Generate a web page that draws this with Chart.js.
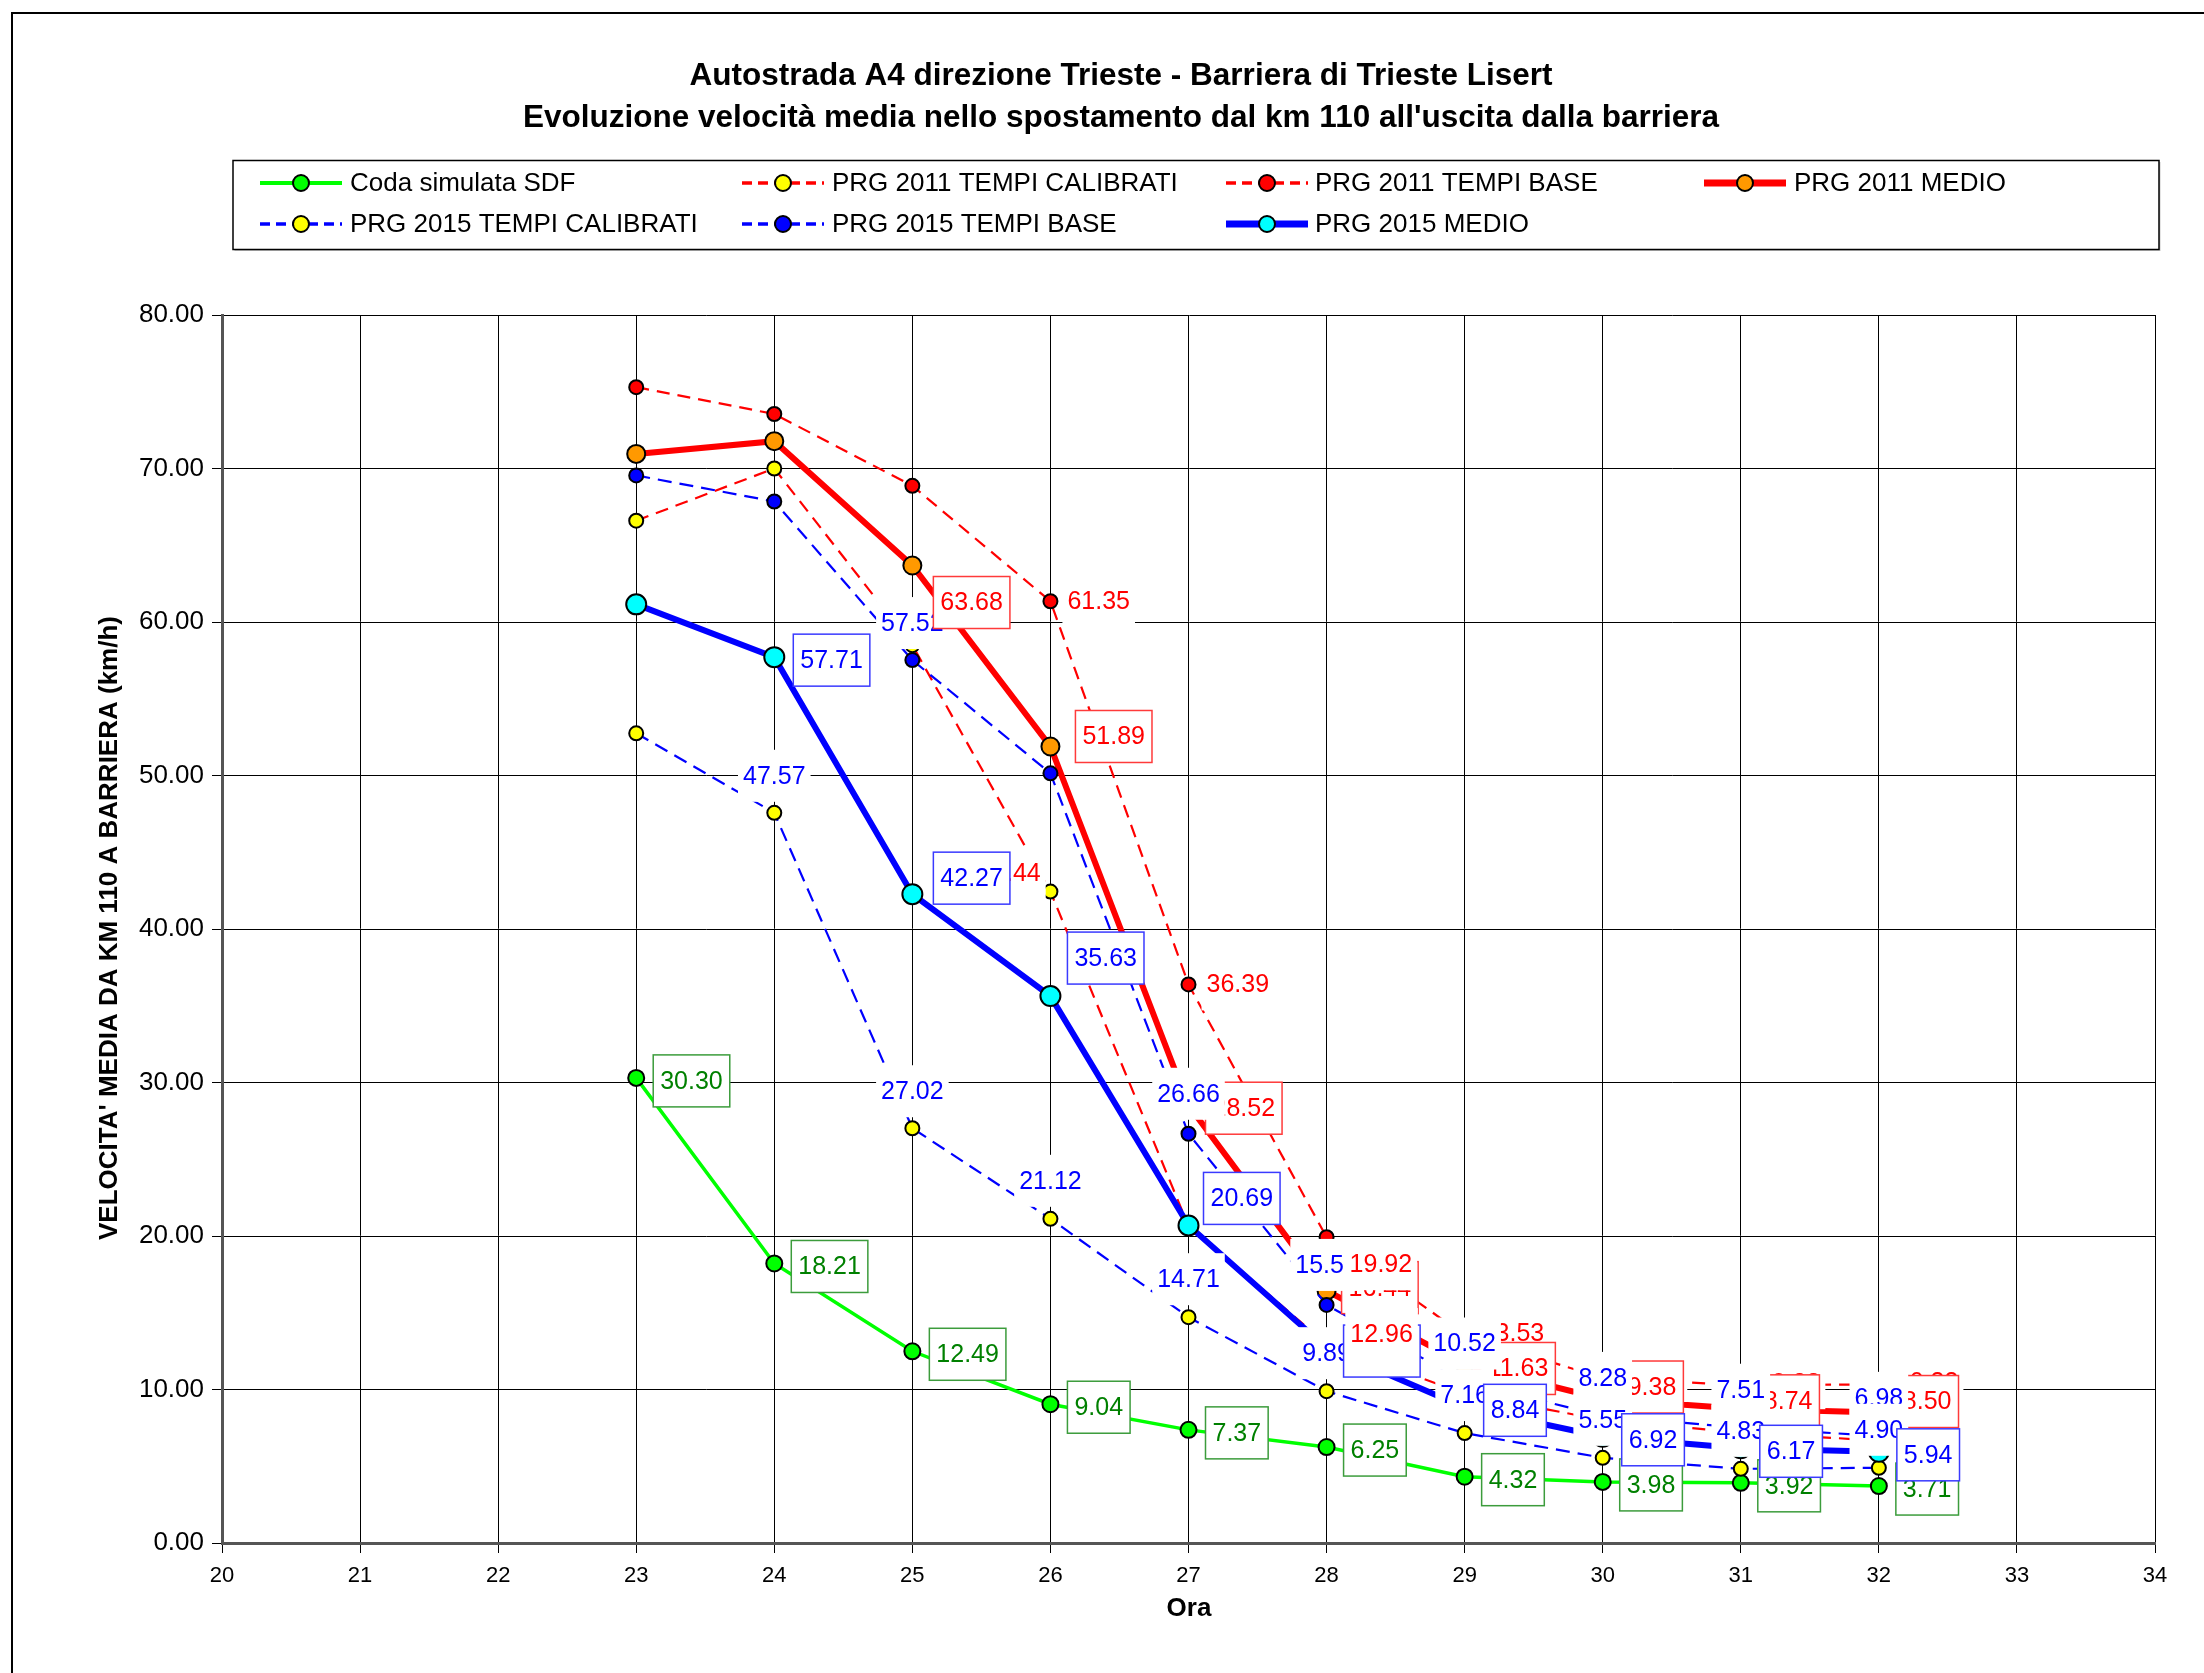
<!DOCTYPE html>
<html lang="it">
<head>
<meta charset="UTF-8">
<title>A4 direzione Trieste - Barriera di Trieste Lisert</title>
<script src="https://cdn.jsdelivr.net/npm/chart.js"></script>
<style>
  html, body { margin: 0; padding: 0; background: #fff; }
  #wrap { width: 2204px; height: 1673px; position: relative; }
</style>
</head>
<body>
<div id="wrap"><canvas id="grafico" width="2204" height="1673"></canvas></div>
<script>
// ore (asse x) e velocita' medie (km/h)
const ore = [23, 24, 25, 26, 27, 28, 29, 30, 31, 32];
const codaSDF          = [30.30, 18.21, 12.49, 9.04, 7.37, 6.25, 4.32, 3.98, 3.92, 3.71];
const prg2011Calibrati = [66.60, 70.00, 58.49, 42.44, 20.65, 12.96, 9.73, 8.01, 7.20, 6.67];
const prg2011Base      = [75.30, 73.55, 68.87, 61.35, 36.39, 19.92, 13.53, 10.75, 10.28, 10.33];
const prg2011Medio     = [70.95, 71.78, 63.68, 51.89, 28.52, 16.44, 11.63, 9.38, 8.74, 8.50];
const prg2015Calibrati = [52.75, 47.57, 27.02, 21.12, 14.71, 9.89, 7.16, 5.55, 4.83, 4.90];
const prg2015Base      = [69.55, 67.85, 57.52, 50.14, 26.66, 15.51, 10.52, 8.28, 7.51, 6.98];
const prg2015Medio     = [61.15, 57.71, 42.27, 35.63, 20.69, 12.70, 8.84, 6.92, 6.17, 5.94];

const titolo = ["Autostrada A4 direzione Trieste - Barriera di Trieste Lisert",
                "Evoluzione velocità media nello spostamento dal km 110 all'uscita dalla barriera"];
const titoloY = "VELOCITA' MEDIA DA KM 110 A BARRIERA (km/h)";
const titoloX = "Ora";

const FONT = '"Liberation Sans", Arial, sans-serif';

const serie = [
  { nome: 'Coda simulata SDF',        dati: codaSDF,          linea: '#00FF00', punto: '#00FF00', sp: 3.5, spLeg: 4,   dash: [],      r: 8 },
  { nome: 'PRG 2011 TEMPI CALIBRATI', dati: prg2011Calibrati, linea: '#FF0000', punto: '#FFFF00', sp: 2.2, spLeg: 3.5, dash: [13, 8], r: 7 },
  { nome: 'PRG 2011 TEMPI BASE',      dati: prg2011Base,      linea: '#FF0000', punto: '#FF0000', sp: 2.2, spLeg: 3.5, dash: [13, 8], r: 7 },
  { nome: 'PRG 2011 MEDIO',           dati: prg2011Medio,     linea: '#FF0000', punto: '#FF9900', sp: 6,   spLeg: 7,   dash: [],      r: 9 },
  { nome: 'PRG 2015 TEMPI CALIBRATI', dati: prg2015Calibrati, linea: '#0000FF', punto: '#FFFF00', sp: 2.2, spLeg: 3.5, dash: [14, 8], r: 7 },
  { nome: 'PRG 2015 TEMPI BASE',      dati: prg2015Base,      linea: '#0000FF', punto: '#0000FF', sp: 2.2, spLeg: 3.5, dash: [14, 8], r: 7 },
  { nome: 'PRG 2015 MEDIO',           dati: prg2015Medio,     linea: '#0000FF', punto: '#00FFFF', sp: 6,   spLeg: 7,   dash: [],      r: 10 }
];

// etichette dati: [indice, ancoraggio ('l' = sinistra box, 'c' = centro), dx, dy, livello opzionale]
const etichette = [
  { serie: 0, box: true, colore: '#008000', bordo: '#3c9c3c', z: 0,
    punti: [[0,'l',17,3],[1,'l',17,3],[2,'l',17,3],[3,'l',17,3],[4,'l',17,3],[5,'l',17,3],[6,'l',17,3],[7,'l',17,3],[8,'l',17,3],[9,'l',17,3]] },
  { serie: 2, box: false, colore: '#FF0000', z: 1,
    punti: [[3,'l',12,0],[4,'l',13,0],[5,'l',18,27,3.5],[6,'l',12,-2],[7,'l',12,-2],[8,'l',12,-2],[9,'l',12,-2]] },
  { serie: 3, box: true, colore: '#FF0000', bordo: '#FF3a3a', z: 2,
    punti: [[2,'l',21,37,3.5],[3,'l',25,-10],[4,'l',17,3],[5,'l',15,-3],[6,'l',16,4],[7,'l',18,-12],[8,'l',16,-8],[9,'l',17,-11]] },
  { serie: 5, box: false, colore: '#0000FF', z: 3,
    punti: [[2,'c',0,-37],[4,'c',0,-40],[5,'c',0,-40],[6,'c',0,-38],[7,'c',0,-38],[8,'c',0,-38],[9,'c',0,-38]] },
  { serie: 4, box: false, colore: '#0000FF', z: 4,
    punti: [[1,'c',0,-37],[2,'c',0,-37],[3,'c',0,-38],[4,'c',0,-38],[5,'c',0,-38],[6,'c',0,-38],[7,'c',0,-38],[8,'c',0,-38],[9,'c',0,-38]] },
  { serie: 6, box: true, colore: '#0000FF', bordo: '#3a3aFF', z: 5,
    punti: [[1,'l',19,3],[2,'l',21,-16],[3,'l',17,-38],[4,'l',15,-27],[5,'l',17,3],[6,'l',19,3],[7,'l',19,3],[8,'l',19,3],[9,'l',18,3]] },
  { serie: 1, box: false, colore: '#FF0000', z: 6,
    punti: [[3,'c',-41,-18,4.5],[5,'c',55,-10]] }
];

const legendaPos = [[260,183],[742,183],[1226,183],[1704,183],[260,224],[742,224],[1226,224]];
const legendaTestoX = [350, 832, 1315, 1794, 350, 832, 1315];

function disegnaEtichette(chart) {
  const ctx = chart.ctx;
  const lista = [];
  etichette.forEach(e => {
    const meta = chart.getDatasetMeta(e.serie);
    e.punti.forEach(p => {
      const el = meta.data[p[0]];
      lista.push({ el: el, testo: serie[e.serie].dati[p[0]].toFixed(2), anc: p[1], dx: p[2], dy: p[3],
                   z: p[4] !== undefined ? p[4] : e.z, e: e });
    });
  });
  lista.sort((a, b) => a.z - b.z);
  ctx.save();
  ctx.font = '25px ' + FONT;
  ctx.textAlign = 'center';
  ctx.textBaseline = 'middle';
  lista.forEach(l => {
    const w = ctx.measureText(l.testo).width + (l.e.box ? 14 : 10);
    const h = 52;
    const cx = l.anc === 'l' ? l.el.x + l.dx + w / 2 : l.el.x + l.dx;
    const cy = l.el.y + l.dy;
    ctx.fillStyle = '#fff';
    ctx.fillRect(cx - w / 2, cy - h / 2, w, h);
    if (l.e.box) {
      ctx.strokeStyle = l.e.bordo;
      ctx.lineWidth = 1.5;
      ctx.strokeRect(cx - w / 2, cy - h / 2, w, h);
    }
    ctx.fillStyle = l.e.colore;
    ctx.fillText(l.testo, cx, cy + 1);
  });
  ctx.restore();
}

function campione(ctx, s, x, y) {
  ctx.save();
  ctx.strokeStyle = s.linea;
  ctx.lineWidth = s.spLeg;
  ctx.setLineDash(s.dash.length ? [10, 6] : []);
  ctx.beginPath(); ctx.moveTo(x, y); ctx.lineTo(x + 82, y); ctx.stroke();
  ctx.setLineDash([]);
  ctx.beginPath(); ctx.arc(x + 41, y, 8, 0, Math.PI * 2);
  ctx.fillStyle = s.punto; ctx.fill();
  ctx.lineWidth = 2; ctx.strokeStyle = '#000'; ctx.stroke();
  ctx.restore();
}

const decor = {
  id: 'decor',
  beforeDraw(chart) {
    const ctx = chart.ctx;
    ctx.save();
    ctx.fillStyle = '#fff';
    ctx.fillRect(0, 0, chart.width, chart.height);
    ctx.restore();
  },
  afterDatasetsDraw(chart) {
    disegnaEtichette(chart);
  },
  afterDraw(chart) {
    const ctx = chart.ctx;
    ctx.save();
    // cornice esterna
    ctx.strokeStyle = '#000';
    ctx.lineWidth = 2;
    ctx.beginPath();
    ctx.moveTo(12, 1673); ctx.lineTo(12, 13); ctx.lineTo(2204, 13);
    ctx.stroke();

    // titolo
    ctx.fillStyle = '#000';
    ctx.textAlign = 'center';
    ctx.textBaseline = 'middle';
    ctx.font = 'bold 31.5px ' + FONT;
    ctx.fillText(titolo[0], 1121, 76);
    ctx.fillText(titolo[1], 1121, 118);

    // legenda
    ctx.fillStyle = '#c8c8c8';
    ctx.fillRect(234.5, 162, 1926, 89);
    ctx.fillStyle = '#fff';
    ctx.fillRect(233, 160.5, 1926, 89);
    ctx.strokeStyle = '#000';
    ctx.lineWidth = 1.5;
    ctx.strokeRect(233, 160.5, 1926, 89);
    ctx.font = '26px ' + FONT;
    ctx.textAlign = 'left';
    serie.forEach((s, i) => {
      const [x, y] = legendaPos[i];
      campione(ctx, s, x, y);
      ctx.fillStyle = '#000';
      ctx.fillText(s.nome, legendaTestoX[i], y + 1);
    });

    // titoli assi
    ctx.textAlign = 'center';
    ctx.font = 'bold 26px ' + FONT;
    ctx.fillText(titoloX, 1189, 1609);
    ctx.translate(110, 928);
    ctx.rotate(-Math.PI / 2);
    ctx.font = 'bold 26px ' + FONT;
    ctx.fillText(titoloY, 0, 0);
    ctx.restore();
  }
};

const datasets = serie.map((s, i) => ({
  label: s.nome,
  data: ore.map((h, j) => ({ x: h, y: s.dati[j] })),
  borderColor: s.linea,
  borderWidth: s.sp,
  borderDash: s.dash,
  backgroundColor: s.punto,
  pointBackgroundColor: s.punto,
  pointBorderColor: '#000',
  pointBorderWidth: 2,
  pointRadius: s.r,
  pointHoverRadius: s.r,
  tension: 0,
  fill: false,
  order: serie.length - 1 - i
}));

new Chart(document.getElementById('grafico'), {
  type: 'line',
  data: { datasets: datasets },
  plugins: [decor],
  options: {
    responsive: false,
    animation: false,
    devicePixelRatio: 1,
    layout: { padding: { top: 315, right: 49, bottom: 0, left: 0 } },
    plugins: { legend: { display: false }, title: { display: false }, tooltip: { enabled: false } },
    scales: {
      x: {
        type: 'linear', min: 20, max: 34,
        ticks: { stepSize: 1, color: '#000', padding: 10, font: { size: 22, family: FONT } },
        grid: { color: '#000', lineWidth: 1, tickLength: 10, tickColor: '#000' },
        border: { color: '#555', width: 3 },
        afterFit: s => { s.height = 130; }
      },
      y: {
        min: 0, max: 80,
        ticks: { stepSize: 10, color: '#000', padding: 8, font: { size: 26, family: FONT },
                 callback: v => v.toFixed(2) },
        grid: { color: '#000', lineWidth: 1, tickLength: 10, tickColor: '#000' },
        border: { color: '#555', width: 3 },
        afterFit: s => { s.width = 222; }
      }
    }
  }
});
</script>
</body>
</html>
